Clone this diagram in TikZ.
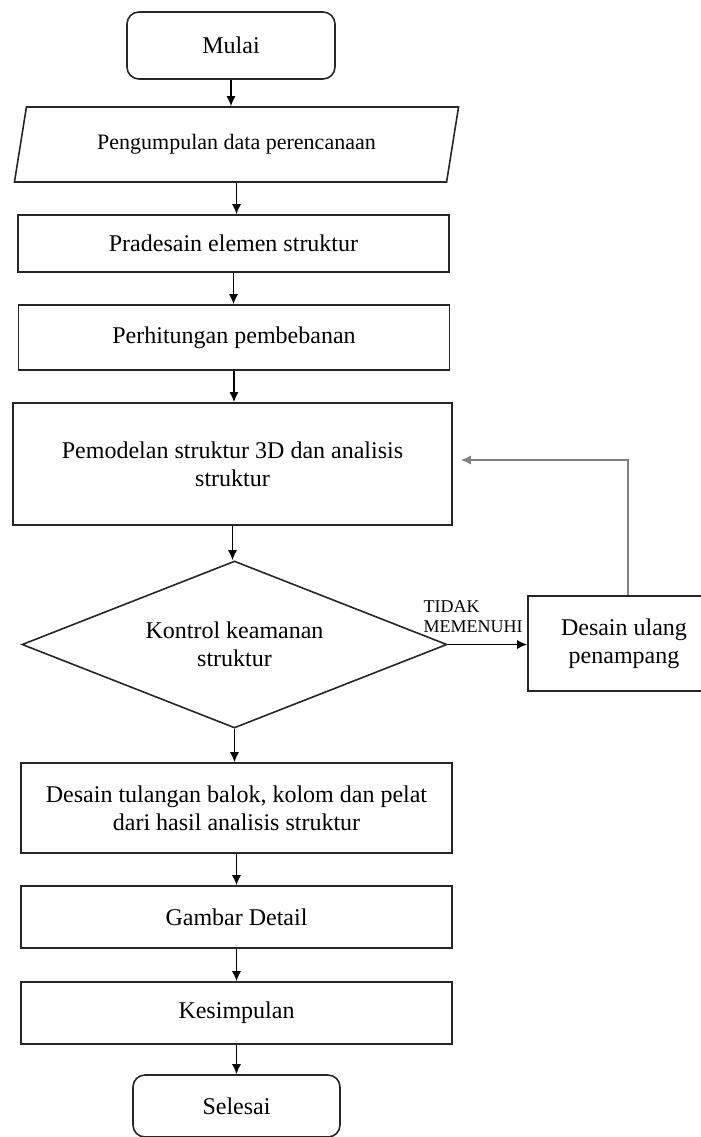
\documentclass[tikz,border=0pt]{standalone}
\usepackage{fontspec}
\setmainfont{Liberation Serif}
\usepackage{tikz}
\usetikzlibrary{shapes.geometric,positioning,arrows.meta}

\begin{document}
\begin{tikzpicture}[
    x=0.5pt, y=-0.5pt,
    every node/.style={font=\fontsize{12}{14}\selectfont, align=center, line width=0.8pt, draw=black!85},
    process/.style={draw, rectangle, minimum width=215.5pt},
    terminal/.style={draw, rectangle, rounded corners=6pt},
    io/.style={draw, trapezium, trapezium left angle=76, trapezium right angle=104,
        trapezium stretches=true, minimum width=222.5pt, minimum height=37.5pt,
        font=\fontsize{11}{13}\selectfont},
    decision/.style={draw, diamond, aspect=2.55, minimum width=212.5pt, minimum height=83.5pt, inner sep=1pt},
    flow/.style={draw, line width=0.7pt, -{Latex[length=5pt,width=4.5pt]}}
]
\useasboundingbox (0,0) rectangle (701,1137);

\node[terminal, minimum width=104pt, minimum height=33.5pt] (mulai) at (231,45.5) {Mulai};
\node[io] (data) at (236.5,144.5) {Pengumpulan data perencanaan};
\node[process, minimum height=28.5pt] (pradesain) at (233.5,243.5) {Pradesain elemen struktur};
\node[process, minimum height=32.5pt] (beban) at (234,337.5) {Perhitungan pembebanan};
\node[process, minimum width=219.5pt, minimum height=61pt] (model) at (232.5,464) {Pemodelan struktur 3D dan analisis\\struktur};
\node[decision] (kontrol) at (234.5,644.5) {Kontrol keamanan\\struktur};
\node[process, minimum width=96pt, minimum height=47.5pt] (ulang) at (624,643.5) {Desain ulang\\penampang};
\node[process, minimum height=45pt] (tulangan) at (236.5,808) {Desain tulangan balok, kolom dan pelat\\dari hasil analisis struktur};
\node[process, minimum height=31pt] (gambar) at (236.5,917) {Gambar Detail};
\node[process, minimum height=31pt] (simpul) at (236.5,1013) {Kesimpulan};
\node[terminal, minimum width=103.5pt, minimum height=31pt] (selesai) at (236.5,1106) {Selesai};

% main flow
\foreach \a/\b in {mulai/data, data/pradesain, pradesain/beban, beban/model,
    model/kontrol, kontrol/tulangan, tulangan/gambar, gambar/simpul, simpul/selesai}
  \draw[flow] (\a.south) -- (\a.south |- \b.north);

% redesign loop
\draw[flow] (kontrol.east) -- (kontrol.east -| ulang.west);
\node[font=\fontsize{9}{10}\selectfont, align=left, anchor=west, inner sep=0pt, draw=none]
  (tidak) at ([xshift=-12.5pt,yshift=13.75pt]kontrol.east) {TIDAK\\MEMENUHI};
\draw[flow, draw=gray] ([xshift=2pt]ulang.north) |- ([xshift=4pt,yshift=2pt]model.east);
\end{tikzpicture}
\end{document}
